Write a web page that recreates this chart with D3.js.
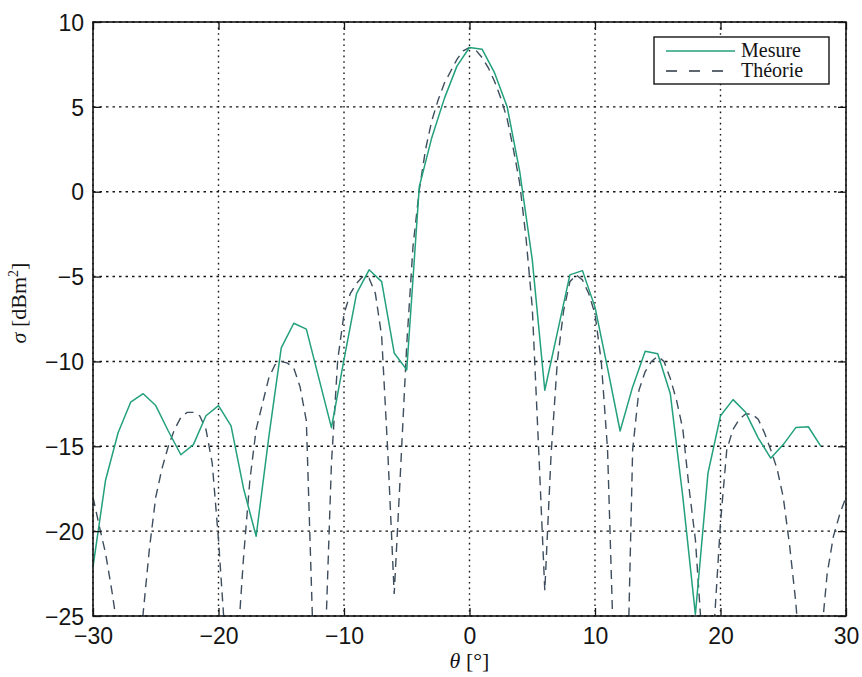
<!DOCTYPE html>
<html>
<head>
<meta charset="utf-8">
<script src="https://cdn.jsdelivr.net/npm/d3@7"></script>
<style>
  html, body { margin: 0; padding: 0; background: #ffffff; }
  svg { display: block; }
</style>
</head>
<body>
<svg id="chart" width="862" height="677"></svg>
<script>
// ---- data ----
const xTicks = [-30, -20, -10, 0, 10, 20, 30];
const yTicks = [-25, -20, -15, -10, -5, 0, 5, 10];
const seriesNames = ["Mesure", "Théorie"];

const thetaMesure = [-30, -29, -28, -27, -26, -25, -24, -23, -22, -21, -20, -19, -18, -17, -16, -15, -14, -13, -12, -11, -10, -9, -8, -7, -6, -5, -4, -3, -2, -1, 0, 1, 2, 3, 4, 5, 6, 7, 8, 9, 10, 11, 12, 13, 14, 15, 16, 17, 18, 19, 20, 21, 22, 23, 24, 25, 26, 27, 28];
const sigmaMesure = [-22.1, -17.0, -14.2, -12.4, -11.9, -12.6, -14.1, -15.5, -14.9, -13.2, -12.6, -13.8, -17.5, -20.3, -14.5, -9.2, -7.75, -8.1, -11.0, -13.9, -9.9, -6.0, -4.6, -5.3, -9.5, -10.5, 0.3, 3.2, 5.5, 7.4, 8.5, 8.4, 7.0, 5.0, 1.2, -4.0, -11.7, -8.3, -4.9, -4.65, -6.8, -10.4, -14.1, -11.5, -9.4, -9.55, -11.9, -18.0, -24.9, -16.6, -13.2, -12.25, -13.0, -14.5, -15.7, -14.9, -13.9, -13.85, -15.0];

const thetaTheorie = [-30, -29.5, -29, -28.5, -28, -27.5, -27, -26.5, -26, -25.5, -25, -24.5, -24, -23.5, -23, -22.5, -22, -21.5, -21, -20.5, -20, -19.5, -19, -18.5, -18, -17.5, -17, -16.5, -16, -15.5, -15, -14.5, -14, -13.5, -13, -12.5, -12, -11.5, -11, -10.5, -10, -9.5, -9, -8.5, -8, -7.5, -7, -6.5, -6, -5.5, -5, -4.5, -4, -3.5, -3, -2.5, -2, -1.5, -1, -0.5, 0, 0.5, 1, 1.5, 2, 2.5, 3, 3.5, 4, 4.5, 5, 5.5, 6, 6.5, 7, 7.5, 8, 8.5, 9, 9.5, 10, 10.5, 11, 11.5, 12, 12.5, 13, 13.5, 14, 14.5, 15, 15.5, 16, 16.5, 17, 17.5, 18, 18.5, 19, 19.5, 20, 20.5, 21, 21.5, 22, 22.5, 23, 23.5, 24, 24.5, 25, 25.5, 26, 26.5, 27, 27.5, 28, 28.5, 29, 29.5, 30];
const sigmaTheorie = [-18.0, -19.7, -21.3, -23.5, -26.0, -32, -40, -29, -24.8, -21.0, -18.0, -16.3, -15.0, -14.0, -13.3, -13.0, -13.0, -13.2, -14.0, -16.0, -20.5, -26.0, -40, -27, -21.5, -17.0, -14.0, -12.5, -11.0, -10.2, -10.0, -10.1, -10.4, -11.5, -13.5, -25.5, -40, -27, -16.0, -9.9, -7.2, -6.0, -5.4, -5.0, -5.1, -6.0, -8.5, -15.5, -23.7, -16.5, -9.0, -3.2, 0.1, 2.5, 4.2, 5.4, 6.4, 7.1, 7.8, 8.3, 8.5, 8.35, 7.9, 7.3, 6.5, 5.5, 4.3, 2.5, 0.5, -2.7, -6.8, -15.0, -23.5, -15.5, -10.0, -7.0, -5.3, -4.9, -5.2, -6.0, -7.2, -10.0, -15.2, -27.5, -40, -31.5, -15.2, -11.7, -10.6, -10.0, -9.7, -10.0, -11.0, -12.3, -14.0, -17.5, -20.5, -26, -40, -25.5, -19.5, -15.2, -14.0, -13.4, -13.1, -13.1, -13.4, -14.2, -15.2, -16.3, -18.0, -20.8, -24.2, -29, -40, -32, -26.5, -22.5, -20.3, -19.0, -18.0];

// ---- layout ----
const W = 862, H = 677;
const m = { left: 93, top: 22, right: 16, bottom: 61 };
const pw = W - m.left - m.right;   // 753
const ph = H - m.top - m.bottom;   // 594

const svg = d3.select("#chart");
const g = svg.append("g").attr("transform", `translate(${m.left},${m.top})`);

const x = d3.scaleLinear().domain([-30, 30]).range([0, pw]);
const y = d3.scaleLinear().domain([-25, 10]).range([ph, 0]);

const tickFont = "'Liberation Sans', Arial, Helvetica, sans-serif";
const serifFont = "'Liberation Serif', 'Times New Roman', 'DejaVu Serif', serif";
const ink = "#141414";

// clip
svg.append("defs").append("clipPath").attr("id", "plotclip")
  .append("rect").attr("x", 0).attr("y", 0).attr("width", pw).attr("height", ph);

// grid
const grid = g.append("g").attr("class", "grid");
grid.selectAll("line.vg").data(xTicks).join("line")
  .attr("x1", d => x(d)).attr("x2", d => x(d))
  .attr("y1", 0).attr("y2", ph)
  .attr("stroke", "#151515").attr("stroke-width", 1.4)
  .attr("stroke-dasharray", "1.6,4");
grid.selectAll("line.hg").data(yTicks).join("line")
  .attr("x1", 0).attr("x2", pw)
  .attr("y1", d => y(d)).attr("y2", d => y(d))
  .attr("stroke", "#151515").attr("stroke-width", 1.4)
  .attr("stroke-dasharray", "2.5,4");

// lines
const lineT = d3.line().x((d, i) => x(thetaTheorie[i])).y(d => y(d));
const lineM = d3.line().x((d, i) => x(thetaMesure[i])).y(d => y(d));
const plot = g.append("g").attr("clip-path", "url(#plotclip)");
plot.append("path").datum(sigmaTheorie)
  .attr("d", lineT).attr("fill", "none")
  .attr("stroke", "#3e4e5e").attr("stroke-width", 1.4)
  .attr("stroke-dasharray", "9,6");
plot.append("path").datum(sigmaMesure)
  .attr("d", lineM).attr("fill", "none")
  .attr("stroke", "#23a07c").attr("stroke-width", 1.5)
  .attr("stroke-linejoin", "round");

// axes (ticks inward)
const tickLen = 8;
const axB = g.append("g").attr("transform", `translate(0,${ph})`)
  .call(d3.axisBottom(x).tickValues(xTicks).tickSize(-tickLen).tickPadding(12).tickFormat(d => d < 0 ? "\u2212" + Math.abs(d) : d));
const axT = g.append("g")
  .call(d3.axisTop(x).tickValues(xTicks).tickSize(-tickLen).tickFormat(""));
const axL = g.append("g")
  .call(d3.axisLeft(y).tickValues(yTicks).tickSize(-tickLen).tickPadding(9).tickFormat(d => d < 0 ? "\u2212" + Math.abs(d) : d));
const axR = g.append("g").attr("transform", `translate(${pw},0)`)
  .call(d3.axisRight(y).tickValues(yTicks).tickSize(-tickLen).tickFormat(""));

[axB, axT, axL, axR].forEach(a => {
  a.select(".domain").remove();
  a.selectAll(".tick line").attr("stroke", ink).attr("stroke-width", 1.3);
  a.selectAll(".tick text").attr("font-family", tickFont).attr("font-size", 23).attr("fill", ink);
});
axB.selectAll(".tick text").attr("dy", "0.71em");
axL.selectAll(".tick text").attr("dy", "0.36em");

// box
g.append("rect").attr("x", 0).attr("y", 0).attr("width", pw).attr("height", ph)
  .attr("fill", "none").attr("stroke", ink).attr("stroke-width", 1.6);

// axis labels
const xl = svg.append("text")
  .attr("x", m.left + x(0)).attr("y", 668)
  .attr("text-anchor", "middle")
  .attr("font-family", serifFont).attr("font-size", 22).attr("fill", ink);
xl.append("tspan").attr("font-style", "italic").text("θ");
xl.append("tspan").text(" [°]");

const yl = svg.append("text")
  .attr("transform", `translate(26,${m.top + ph / 2 - 16}) rotate(-90)`)
  .attr("text-anchor", "middle")
  .attr("font-family", serifFont).attr("font-size", 22).attr("fill", ink);
yl.append("tspan").attr("font-style", "italic").text("σ");
yl.append("tspan").text(" [dBm");
yl.append("tspan").attr("font-size", 14).attr("dy", -8).text("2");
yl.append("tspan").attr("dy", 8).text("]");

// legend
const lg = svg.append("g").attr("transform", "translate(654,37)");
lg.append("rect").attr("x", 0).attr("y", 0).attr("width", 175).attr("height", 47)
  .attr("fill", "#ffffff").attr("stroke", ink).attr("stroke-width", 1.4);
const legendStyles = [
  { stroke: "#23a07c", dash: null, w: 1.5 },
  { stroke: "#2a3642", dash: "11,12", w: 1.6 }
];
seriesNames.forEach((name, i) => {
  const yy = 14 + i * 20;
  lg.append("line").attr("x1", 12).attr("x2", 81).attr("y1", yy).attr("y2", yy)
    .attr("stroke", legendStyles[i].stroke).attr("stroke-width", legendStyles[i].w)
    .attr("stroke-dasharray", legendStyles[i].dash);
  lg.append("text").attr("x", 87).attr("y", yy + 6)
    .attr("font-family", serifFont).attr("font-size", 20).attr("fill", ink)
    .text(name);
});
</script>
</body>
</html>
